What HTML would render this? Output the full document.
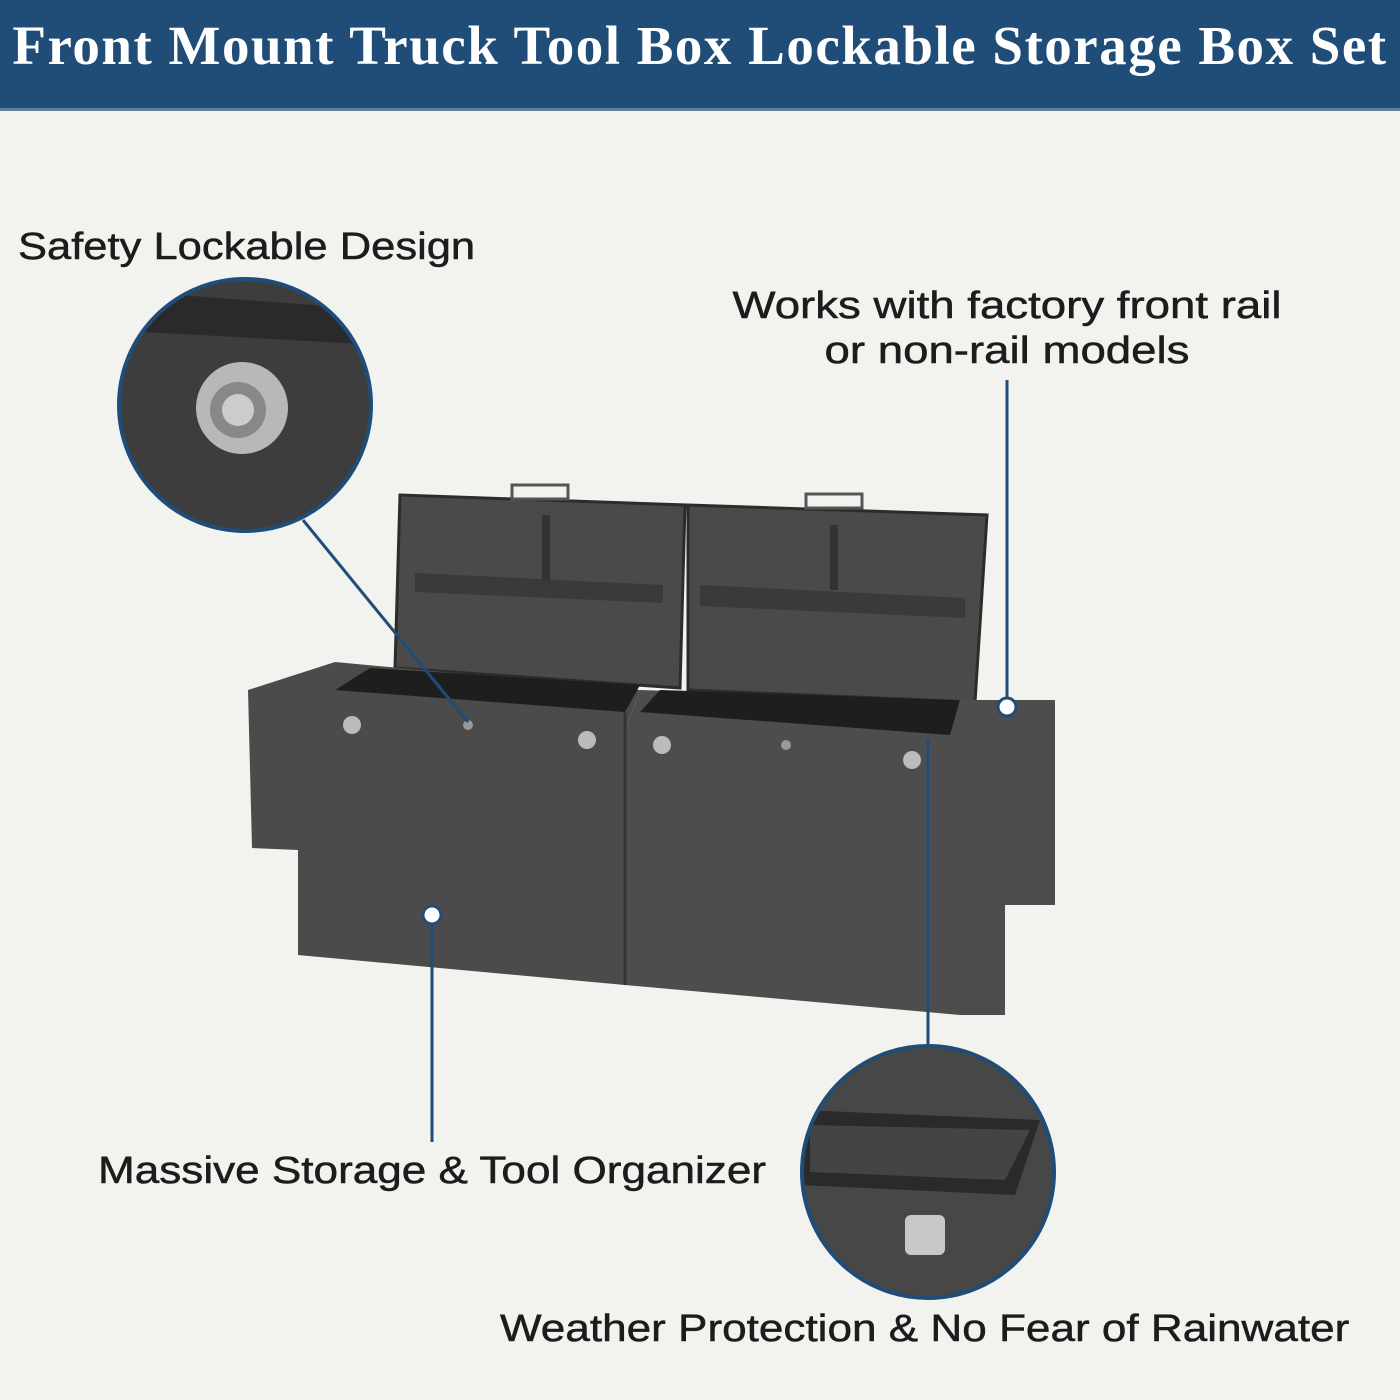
<!DOCTYPE html>
<html><head><meta charset="utf-8"><style>
html,body{margin:0;padding:0}
body{width:1400px;height:1400px;position:relative;overflow:hidden;background:#f2f2ef;font-family:"Liberation Sans",sans-serif}
.hdr{position:absolute;left:0;top:0;width:1400px;height:108px;background:#1f4d78;border-bottom:3px solid #5f7f9c}
.hdr div{position:absolute;left:0;width:1400px;top:14px;text-align:center;color:#fff;font-family:"Liberation Serif",serif;font-weight:bold;font-size:55px;letter-spacing:1.5px}
.t{position:absolute;color:#1c1c1c;font-size:38px;white-space:nowrap;transform-origin:0 0;transform:scaleX(1.16);-webkit-text-stroke:0.5px #1c1c1c}
svg{position:absolute;left:0;top:0}
</style></head><body>
<div class="hdr"><div>Front Mount Truck Tool Box Lockable Storage Box Set</div></div>
<svg width="1400" height="1400">
<defs><clipPath id="c1"><circle cx="245" cy="405" r="126"/></clipPath><clipPath id="c2"><circle cx="928" cy="1172" r="126"/></clipPath></defs>
<polygon points="400,495 685,505 680,688 395,668" fill="#4a4a4a" stroke="#2c2c2c" stroke-width="3"/>
<polygon points="688,505 987,515 975,702 688,690" fill="#4a4a4a" stroke="#2c2c2c" stroke-width="3"/>
<rect x="512" y="485" width="56" height="14" fill="none" stroke="#555" stroke-width="3"/>
<rect x="806" y="494" width="56" height="14" fill="none" stroke="#555" stroke-width="3"/>
<polygon points="415,573 663,585 663,603 415,592" fill="#3a3a3a"/>
<polygon points="700,585 965,598 965,618 700,606" fill="#3a3a3a"/>
<rect x="542" y="515" width="8" height="65" fill="#333"/><rect x="830" y="525" width="8" height="65" fill="#333"/>
<polygon points="248,690 335,662 400,668 640,690 625,730 625,985 298,955 298,850 252,848" fill="#4b4b4b"/>
<polygon points="625,730 640,690 970,700 1055,700 1055,905 1005,905 1005,1015 960,1015 625,985" fill="#4d4d4d"/>
<polygon points="335,690 370,668 640,685 625,712" fill="#1e1e1e"/>
<polygon points="640,712 660,690 960,700 950,735" fill="#1e1e1e"/>
<line x1="625" y1="712" x2="625" y2="985" stroke="#333" stroke-width="3"/>
<circle cx="352" cy="725" r="9" fill="#bbb"/><circle cx="587" cy="740" r="9" fill="#bbb"/><circle cx="662" cy="745" r="9" fill="#bbb"/><circle cx="912" cy="760" r="9" fill="#bbb"/>
<circle cx="468" cy="725" r="5" fill="#999"/><circle cx="786" cy="745" r="5" fill="#999"/>
<g clip-path="url(#c1)"><rect x="110" y="270" width="270" height="270" fill="#3d3d3d"/><polygon points="110,290 380,310 380,345 110,330" fill="#2a2a2a"/><circle cx="242" cy="408" r="46" fill="#b8b8b8"/><circle cx="238" cy="410" r="28" fill="#888"/><circle cx="238" cy="410" r="16" fill="#ccc"/></g>
<circle cx="245" cy="405" r="126" fill="none" stroke="#1f4d78" stroke-width="4"/>
<g clip-path="url(#c2)"><rect x="790" y="1040" width="280" height="270" fill="#474747"/><polygon points="800,1110 1040,1120 1015,1195 800,1185" fill="#2a2a2a"/><polygon points="810,1125 1030,1130 1005,1180 810,1172" fill="#444" /><rect x="905" y="1215" width="40" height="40" rx="6" fill="#c8c8c8"/></g>
<circle cx="928" cy="1172" r="126" fill="none" stroke="#1f4d78" stroke-width="4"/>
<g stroke="#1f4d78" stroke-width="3" fill="none">
<line x1="303" y1="520" x2="468" y2="722"/>
<line x1="1007" y1="380" x2="1007" y2="700"/>
<line x1="432" y1="915" x2="432" y2="1142"/>
<line x1="928" y1="740" x2="928" y2="1046"/>
</g>
<circle cx="1007" cy="707" r="9" fill="#fff" stroke="#1f4d78" stroke-width="3"/>
<circle cx="432" cy="915" r="9" fill="#fff" stroke="#1f4d78" stroke-width="3"/>
</svg>
<div class="t" style="left:18px;top:226px;transform:scaleX(1.145)">Safety Lockable Design</div>
<div class="t" style="left:731px;top:284px;width:460px;text-align:center;line-height:45px;transform:scaleX(1.2)">Works with factory front rail<br>or non-rail models</div>
<div class="t" style="left:98px;top:1150px">Massive Storage &amp; Tool Organizer</div>
<div class="t" style="left:500px;top:1308px">Weather Protection &amp; No Fear of Rainwater</div>
</body></html>
